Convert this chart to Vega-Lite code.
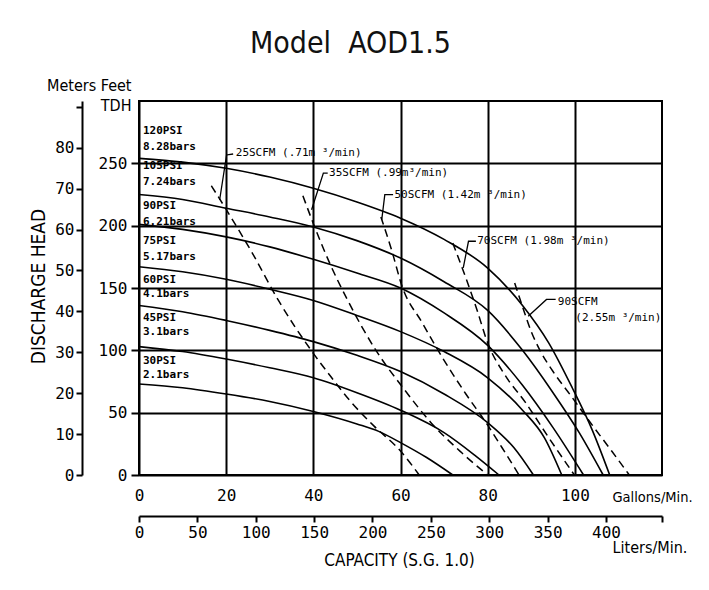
{
  "$schema": "https://vega.github.io/schema/vega-lite/v6.json",
  "width": 523,
  "height": 374,
  "autosize": {"type": "none"},
  "padding": {"left": 139, "top": 101, "right": 47, "bottom": 115},
  "background": "white",
  "title": {
    "text": "Model\u00a0 AOD1.5",
    "font": "DejaVu Sans Condensed, sans-serif",
    "fontSize": 30,
    "fontWeight": "normal",
    "color": "#111",
    "anchor": "middle",
    "frame": "group",
    "baseline": "alphabetic",
    "dx": -50,
    "offset": -6
  },
  "config": {
    "view": {"stroke": "black", "strokeWidth": 2},
    "axis": {
      "labelFont": "DejaVu Sans Mono, monospace",
      "labelFontSize": 16,
      "labelColor": "black",
      "titleFont": "DejaVu Sans Condensed, sans-serif",
      "titleFontSize": 16,
      "titleFontWeight": "normal",
      "titleColor": "black"
    }
  },
  "datasets": {
    "psi": [
      {"curve": "120", "gal": 0, "ft": 254}, {"curve": "120", "gal": 10, "ft": 251}, {"curve": "120", "gal": 20, "ft": 246}, {"curve": "120", "gal": 30, "ft": 239}, {"curve": "120", "gal": 40, "ft": 230}, {"curve": "120", "gal": 50, "ft": 219}, {"curve": "120", "gal": 60, "ft": 206}, {"curve": "120", "gal": 70, "ft": 189}, {"curve": "120", "gal": 80, "ft": 166}, {"curve": "120", "gal": 88, "ft": 136}, {"curve": "120", "gal": 94, "ft": 106}, {"curve": "120", "gal": 99.4, "ft": 70}, {"curve": "120", "gal": 104, "ft": 36}, {"curve": "120", "gal": 108, "ft": 0},
      {"curve": "105", "gal": 0, "ft": 225}, {"curve": "105", "gal": 10, "ft": 221}, {"curve": "105", "gal": 20, "ft": 214}, {"curve": "105", "gal": 30, "ft": 207}, {"curve": "105", "gal": 40, "ft": 199}, {"curve": "105", "gal": 50, "ft": 188}, {"curve": "105", "gal": 60, "ft": 174}, {"curve": "105", "gal": 70, "ft": 155}, {"curve": "105", "gal": 80, "ft": 132}, {"curve": "105", "gal": 88, "ft": 100}, {"curve": "105", "gal": 95, "ft": 66}, {"curve": "105", "gal": 101, "ft": 34}, {"curve": "105", "gal": 106.5, "ft": 0},
      {"curve": "90", "gal": 0, "ft": 201}, {"curve": "90", "gal": 10, "ft": 197}, {"curve": "90", "gal": 20, "ft": 191}, {"curve": "90", "gal": 30, "ft": 183}, {"curve": "90", "gal": 40, "ft": 173}, {"curve": "90", "gal": 50, "ft": 162}, {"curve": "90", "gal": 60, "ft": 150}, {"curve": "90", "gal": 70, "ft": 130}, {"curve": "90", "gal": 80, "ft": 104}, {"curve": "90", "gal": 88, "ft": 72}, {"curve": "90", "gal": 95, "ft": 38}, {"curve": "90", "gal": 102, "ft": 0},
      {"curve": "75", "gal": 0, "ft": 167}, {"curve": "75", "gal": 10, "ft": 163}, {"curve": "75", "gal": 20, "ft": 157}, {"curve": "75", "gal": 30, "ft": 149}, {"curve": "75", "gal": 40, "ft": 140}, {"curve": "75", "gal": 50, "ft": 128}, {"curve": "75", "gal": 60, "ft": 115}, {"curve": "75", "gal": 70, "ft": 99}, {"curve": "75", "gal": 80, "ft": 78}, {"curve": "75", "gal": 88, "ft": 52}, {"curve": "75", "gal": 93, "ft": 30}, {"curve": "75", "gal": 97, "ft": 0},
      {"curve": "60", "gal": 0, "ft": 136}, {"curve": "60", "gal": 10, "ft": 131}, {"curve": "60", "gal": 20, "ft": 124}, {"curve": "60", "gal": 30, "ft": 116}, {"curve": "60", "gal": 40, "ft": 107}, {"curve": "60", "gal": 50, "ft": 96}, {"curve": "60", "gal": 60, "ft": 83}, {"curve": "60", "gal": 70, "ft": 65}, {"curve": "60", "gal": 80, "ft": 42}, {"curve": "60", "gal": 86, "ft": 22}, {"curve": "60", "gal": 90.5, "ft": 0},
      {"curve": "45", "gal": 0, "ft": 103}, {"curve": "45", "gal": 10, "ft": 99}, {"curve": "45", "gal": 20, "ft": 93}, {"curve": "45", "gal": 30, "ft": 86}, {"curve": "45", "gal": 40, "ft": 78}, {"curve": "45", "gal": 50, "ft": 66}, {"curve": "45", "gal": 60, "ft": 52}, {"curve": "45", "gal": 70, "ft": 34}, {"curve": "45", "gal": 77, "ft": 16}, {"curve": "45", "gal": 82.6, "ft": 0},
      {"curve": "30", "gal": 0, "ft": 73}, {"curve": "30", "gal": 10, "ft": 70}, {"curve": "30", "gal": 20, "ft": 65}, {"curve": "30", "gal": 30, "ft": 59}, {"curve": "30", "gal": 40, "ft": 51}, {"curve": "30", "gal": 50, "ft": 41}, {"curve": "30", "gal": 55, "ft": 35}, {"curve": "30", "gal": 60, "ft": 26}, {"curve": "30", "gal": 66, "ft": 14}, {"curve": "30", "gal": 72, "ft": 0}
    ],
    "scfm": [
      {"curve": "25", "gal": 16.6, "ft": 232}, {"curve": "25", "gal": 20, "ft": 213}, {"curve": "25", "gal": 26, "ft": 178}, {"curve": "25", "gal": 32, "ft": 140}, {"curve": "25", "gal": 39.5, "ft": 100}, {"curve": "25", "gal": 44, "ft": 79}, {"curve": "25", "gal": 48.3, "ft": 60}, {"curve": "25", "gal": 54, "ft": 39}, {"curve": "25", "gal": 59.8, "ft": 20}, {"curve": "25", "gal": 64.3, "ft": 0},
      {"curve": "35", "gal": 37.6, "ft": 224}, {"curve": "35", "gal": 40.3, "ft": 199}, {"curve": "35", "gal": 44, "ft": 168}, {"curve": "35", "gal": 47.9, "ft": 140}, {"curve": "35", "gal": 54, "ft": 102}, {"curve": "35", "gal": 61, "ft": 68}, {"curve": "35", "gal": 67, "ft": 42}, {"curve": "35", "gal": 74, "ft": 18}, {"curve": "35", "gal": 80, "ft": 0},
      {"curve": "50", "gal": 55.5, "ft": 207}, {"curve": "50", "gal": 58, "ft": 180}, {"curve": "50", "gal": 60.3, "ft": 152}, {"curve": "50", "gal": 65, "ft": 122}, {"curve": "50", "gal": 70, "ft": 92}, {"curve": "50", "gal": 75, "ft": 65}, {"curve": "50", "gal": 80, "ft": 40}, {"curve": "50", "gal": 84, "ft": 18}, {"curve": "50", "gal": 87.2, "ft": 0},
      {"curve": "70", "gal": 72, "ft": 186}, {"curve": "70", "gal": 75, "ft": 158}, {"curve": "70", "gal": 77.5, "ft": 133}, {"curve": "70", "gal": 80, "ft": 106}, {"curve": "70", "gal": 84, "ft": 80}, {"curve": "70", "gal": 88.7, "ft": 58}, {"curve": "70", "gal": 94, "ft": 30}, {"curve": "70", "gal": 99.9, "ft": 0},
      {"curve": "90", "gal": 86.2, "ft": 154}, {"curve": "90", "gal": 88, "ft": 135}, {"curve": "90", "gal": 90, "ft": 115}, {"curve": "90", "gal": 92, "ft": 100}, {"curve": "90", "gal": 95, "ft": 83}, {"curve": "90", "gal": 99, "ft": 64}, {"curve": "90", "gal": 104, "ft": 40}, {"curve": "90", "gal": 108.5, "ft": 19}, {"curve": "90", "gal": 112.5, "ft": 0}
    ],
    "leaders": [
      {"curve": "25", "ord": 1, "gal": 18.5, "ft": 220.6}, {"curve": "25", "ord": 2, "gal": 20.1, "ft": 256.7}, {"curve": "25", "ord": 3, "gal": 21.6, "ft": 257.5},
      {"curve": "35", "ord": 1, "gal": 39.6, "ft": 212.8}, {"curve": "35", "ord": 2, "gal": 42.3, "ft": 242.2}, {"curve": "35", "ord": 3, "gal": 43.3, "ft": 242.2},
      {"curve": "50", "ord": 1, "gal": 55.7, "ft": 204.9}, {"curve": "50", "ord": 2, "gal": 56.4, "ft": 224.9}, {"curve": "50", "ord": 3, "gal": 58.3, "ft": 224.9},
      {"curve": "70", "ord": 1, "gal": 74.4, "ft": 166.2}, {"curve": "70", "ord": 2, "gal": 75.6, "ft": 187.5}, {"curve": "70", "ord": 3, "gal": 77.3, "ft": 187.5},
      {"curve": "90", "ord": 1, "gal": 89.3, "ft": 127.4}, {"curve": "90", "ord": 2, "gal": 93.5, "ft": 140.8}, {"curve": "90", "ord": 3, "gal": 95.6, "ft": 140.8}
    ],
    "psiLabels": [
      {"label": "120PSI", "gal": 0.9, "ft": 276.2}, {"label": "8.28bars", "gal": 0.9, "ft": 263.3},
      {"label": "105PSI", "gal": 0.9, "ft": 247.6}, {"label": "7.24bars", "gal": 0.9, "ft": 234.7},
      {"label": "90PSI", "gal": 0.9, "ft": 216}, {"label": "6.21bars", "gal": 0.9, "ft": 203},
      {"label": "75PSI", "gal": 0.9, "ft": 187.3}, {"label": "5.17bars", "gal": 0.9, "ft": 174.6},
      {"label": "60PSI", "gal": 0.9, "ft": 156.4}, {"label": "4.1bars", "gal": 0.9, "ft": 145.4},
      {"label": "45PSI", "gal": 0.9, "ft": 125.6}, {"label": "3.1bars", "gal": 0.9, "ft": 114.6},
      {"label": "30PSI", "gal": 0.9, "ft": 91.4}, {"label": "2.1bars", "gal": 0.9, "ft": 80.2}
    ],
    "scfmLabels": [
      {"label": "25SCFM (.71m ³/min)", "gal": 22.2, "ft": 257.9},
      {"label": "35SCFM (.99m³/min)", "gal": 43.6, "ft": 242.4},
      {"label": "50SCFM (1.42m ³/min)", "gal": 58.6, "ft": 225},
      {"label": "70SCFM (1.98m ³/min)", "gal": 77.6, "ft": 187.5},
      {"label": "90SCFM", "gal": 96.1, "ft": 138.5},
      {"label": "(2.55m ³/min)", "gal": 100.1, "ft": 126}
    ],
    "litersMeters": [
      {"liters": 0, "meters": 0},
      {"liters": 448, "meters": 91.44}
    ]
  },
  "layer": [
    {
      "encoding": {
        "x": {
          "field": "gal",
          "type": "quantitative",
          "scale": {"domain": [0, 120], "nice": false, "zero": false},
          "axis": {
            "orient": "bottom",
            "values": [0, 20, 40, 60, 80, 100],
            "grid": true,
            "gridColor": "black",
            "gridWidth": 2,
            "gridOpacity": 1,
            "domain": false,
            "ticks": false,
            "tickSize": 0,
            "labelPadding": 12,
            "labelFlush": false,
            "labelOverlap": false,
            "title": "Gallons/Min.",
            "titleFontSize": 14.5,
            "titleX": 473,
            "titleY": 22,
            "titleAlign": "left",
            "titleAnchor": "start",
            "titleBaseline": "middle"
          }
        },
        "y": {
          "field": "ft",
          "type": "quantitative",
          "scale": {"domain": [0, 300], "nice": false, "zero": false},
          "axis": {
            "orient": "left",
            "values": [0, 50, 100, 150, 200, 250],
            "grid": true,
            "gridColor": "black",
            "gridWidth": 2,
            "gridOpacity": 1,
            "domain": false,
            "ticks": true,
            "tickSize": 8,
            "tickWidth": 2,
            "tickColor": "black",
            "labelPadding": 4,
            "labelFlush": false,
            "labelOverlap": false,
            "title": ["Meters Feet", "TDH"],
            "titleFontSize": 16,
            "titleAngle": 0,
            "titleAlign": "right",
            "titleBaseline": "alphabetic",
            "titleLineHeight": 20,
            "titleX": -8,
            "titleY": -11
          }
        }
      },
      "layer": [
        {
          "data": {"name": "psi"},
          "mark": {"type": "line", "color": "black", "strokeWidth": 1.6, "interpolate": "monotone"},
          "encoding": {"detail": {"field": "curve"}, "order": {"field": "gal", "type": "quantitative"}}
        },
        {
          "data": {"name": "scfm"},
          "mark": {"type": "line", "color": "black", "strokeWidth": 1.5, "strokeDash": [8, 5], "interpolate": "monotone"},
          "encoding": {"detail": {"field": "curve"}, "order": {"field": "gal", "type": "quantitative"}}
        },
        {
          "data": {"name": "leaders"},
          "mark": {"type": "line", "color": "black", "strokeWidth": 1.3},
          "encoding": {"detail": {"field": "curve"}, "order": {"field": "ord", "type": "quantitative"}}
        },
        {
          "data": {"name": "psiLabels"},
          "mark": {"type": "text", "align": "left", "baseline": "middle", "font": "DejaVu Sans Mono, monospace", "fontSize": 11, "fontWeight": "bold", "color": "black"},
          "encoding": {"text": {"field": "label"}}
        },
        {
          "data": {"name": "scfmLabels"},
          "mark": {"type": "text", "align": "left", "baseline": "middle", "font": "DejaVu Sans Mono, monospace", "fontSize": 11, "color": "black"},
          "encoding": {"text": {"field": "label"}}
        }
      ]
    },
    {
      "data": {"name": "litersMeters"},
      "mark": {"type": "point", "opacity": 0},
      "encoding": {
        "x": {
          "field": "liters",
          "type": "quantitative",
          "scale": {"domain": [0, 448], "nice": false, "zero": false},
          "axis": {
            "orient": "bottom",
            "offset": 41,
            "values": [0, 50, 100, 150, 200, 250, 300, 350, 400, 448],
            "labelExpr": "datum.value > 420 ? '' : datum.label",
            "grid": false,
            "domain": true,
            "domainColor": "black",
            "domainWidth": 2,
            "ticks": true,
            "tickSize": 6,
            "tickWidth": 2,
            "tickColor": "black",
            "labelPadding": 2,
            "labelFlush": false,
            "labelOverlap": false,
            "title": "Liters/Min.",
            "titleFontSize": 16,
            "titleX": 473,
            "titleY": 31,
            "titleAlign": "left",
            "titleAnchor": "start",
            "titleBaseline": "middle"
          }
        },
        "y": {
          "field": "meters",
          "type": "quantitative",
          "scale": {"domain": [0, 91.44], "nice": false, "zero": false},
          "axis": {
            "orient": "left",
            "offset": 57,
            "values": [0, 10, 20, 30, 40, 50, 60, 70, 80, 90],
            "labelExpr": "datum.value >= 90 ? '' : datum.label",
            "grid": false,
            "domain": true,
            "domainColor": "black",
            "domainWidth": 2,
            "ticks": true,
            "tickSize": 6,
            "tickWidth": 2,
            "tickColor": "black",
            "labelPadding": 2,
            "labelFlush": false,
            "labelOverlap": false,
            "title": "DISCHARGE HEAD",
            "titleFontSize": 19,
            "titleAngle": -90,
            "titleX": -43.5,
            "titleY": 185,
            "titleAlign": "center",
            "titleBaseline": "middle"
          }
        }
      }
    },
    {
      "data": {"name": "litersMeters"},
      "mark": {"type": "point", "opacity": 0},
      "encoding": {
        "x": {
          "field": "liters",
          "type": "quantitative",
          "scale": {"domain": [0, 448], "nice": false, "zero": false},
          "axis": {
            "orient": "bottom",
            "offset": 41,
            "labels": false,
            "ticks": false,
            "domain": false,
            "grid": false,
            "title": "CAPACITY (S.G. 1.0)",
            "titleFontSize": 17,
            "titleX": 260,
            "titleY": 44,
            "titleAlign": "center",
            "titleBaseline": "middle"
          }
        }
      }
    }
  ],
  "resolve": {"scale": {"x": "independent", "y": "independent"}}
}
